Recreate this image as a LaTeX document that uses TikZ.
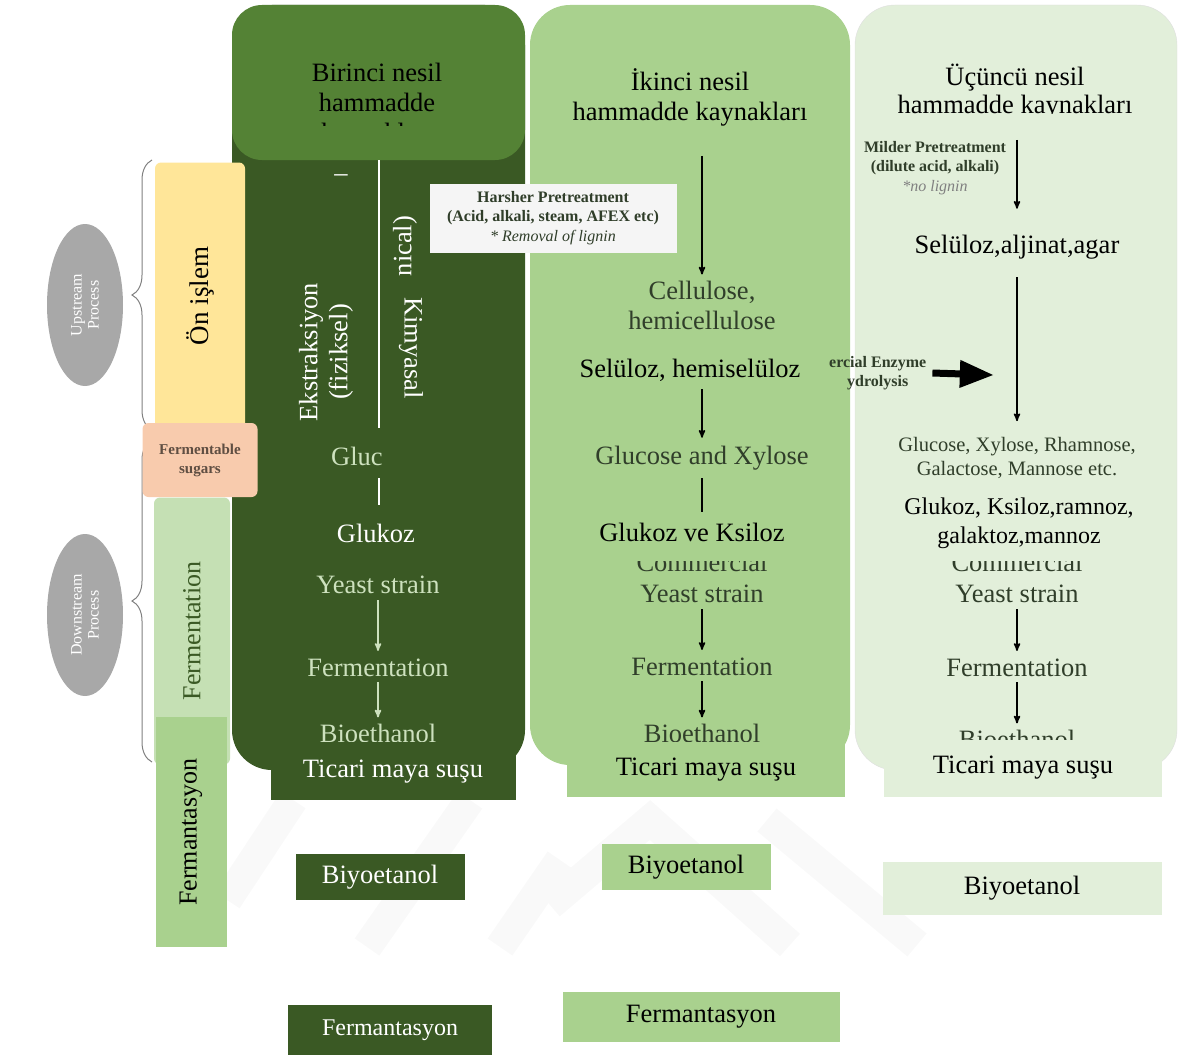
\documentclass[tikz,border=0pt]{standalone}
\usepackage{fontspec}
\setmainfont{Liberation Serif}
\usetikzlibrary{arrows,shapes.geometric,decorations.pathreplacing}
\definecolor{colD}{RGB}{58,89,36}
\definecolor{hdr}{RGB}{84,130,53}
\definecolor{col2}{RGB}{169,209,142}
\definecolor{col3}{RGB}{226,239,218}
\definecolor{pale}{RGB}{205,225,190}
\definecolor{engc}{RGB}{48,62,42}
\definecolor{yel}{RGB}{255,230,153}
\definecolor{peach}{RGB}{248,203,173}
\definecolor{sugc}{RGB}{95,78,66}
\definecolor{ltg}{RGB}{197,224,180}
\definecolor{elg}{RGB}{168,168,168}
\tikzset{
  col_txt/.style = {align=center, inner sep=0pt, font=\fontsize{26.5}{30}\selectfont},
  eng_txt/.style = {align=center, inner sep=0pt, font=\fontsize{26.5}{30}\selectfont},
  tr_box/.style = {inner sep=0pt, font=\fontsize{26.5}{30}\selectfont},
  small_b/.style = {align=center, inner sep=0pt, font=\fontsize{16}{19.5}\selectfont\bfseries},
  side_box/.style = {rounded corners=6pt, inner sep=0pt, align=center},
  proc_ell/.style = {ellipse, fill=elg, inner sep=0pt, minimum width=76pt,
    minimum height=162pt},
  flow/.style = {->, line width=1.6pt}}

\begin{document}
\begin{tikzpicture}[x=1pt,y=-1pt,>=stealth']
\useasboundingbox (0,0) rectangle (1183,1057);
% faint watermark
\begin{scope}[gray!5, line width=30pt]
 \draw (227,900) -- (293,800);
 \draw (367,947) -- (470,800);
 \draw (500,947) -- (560,860);
 \draw (550,905) -- (650,820) -- (790,945);
 \draw (767,820) -- (917,945);
\end{scope}
% columns
\fill[colD, rounded corners=40pt] (232,5) rectangle (525,770);
\fill[hdr, rounded corners=30pt] (232,5) rectangle (525,160);
\fill[col2, rounded corners=40pt] (530,5) rectangle (850,765);
\filldraw[fill=col3, draw=gray!25, rounded corners=40pt] (855,5) rectangle (1177,770);

% first generation
\begin{scope}
 \clip (240,10) rectangle (515,125);
 \node[col_txt] (t1) at (377,105) {Birinci nesil\\hammadde\\kaynakları};
\end{scope}
\coordinate (h1) at (379,160);
\coordinate (e1) at (379,428);
\draw[white, line width=2.5pt] (h1) -- (e1);
\node[white, col_txt] (dash1) at (341,178) {–};
\node[white, col_txt, rotate=90] (mech) at (405,246) {nical)};
\node[white, col_txt, rotate=90] (ext) at (326,352) {Ekstraksiyon\\(fiziksel)};
\node[white, col_txt, rotate=-90] (kim) at (411,348) {Kimyasal};
\node[pale, eng_txt, anchor=west] (glc1) at (331,456) {Gluc};
\coordinate (b1a) at (379,478);
\coordinate (b1b) at (379,505);
\draw[white, line width=2.5pt] (b1a) -- (b1b);
\node[white, col_txt] (gk1) at (376,533) {Glukoz};
\node[pale, eng_txt] (ys1) at (378,585) {Yeast strain};
\node[pale, eng_txt] (fe1) at (378,668) {Fermentation};
\begin{scope}
 \clip (240,700) rectangle (515,741);
 \node[pale, eng_txt, anchor=base] (bio1) at (378,742) {Bioethanol};
\end{scope}
\draw[flow, pale, shorten <=6pt, shorten >=8pt] (ys1) -- (fe1);
\draw[flow, pale, shorten <=5pt, shorten >=6pt] (fe1) -- (bio1);

% second generation
\node[col_txt] (t2) at (690,97) {İkinci nesil\\hammadde kaynakları};
\node[engc, col_txt] (cel) at (702,305) {Cellulose,\\hemicellulose};
\draw[flow, shorten <=30pt, shorten >=6pt] (t2.south -| cel) -- (cel);
\node[fill=gray!8, small_b, minimum width=247pt, minimum height=69pt,
  text=engc] (harsh) at (553,218)
  {Harsher Pretreatment\\(Acid, alkali, steam, AFEX etc)\\
   {\mdseries\itshape * Removal of lignin}};
\node[col_txt] (sel2) at (690,370) {Selüloz, hemiselüloz};
\node[engc, eng_txt] (glx2) at (702,458) {Glucose and Xylose};
\draw[flow, shorten <=8pt, shorten >=8pt] (sel2.south -| glx2) -- (glx2);
\node[col_txt] (gk2) at (692,532) {Glukoz ve Ksiloz};
\begin{scope}
 \clip (560,561) rectangle (840,580);
 \node[engc, eng_txt, anchor=base] (com2) at (702,571) {Commercial};
\end{scope}
\draw[line width=1.8pt, shorten <=8pt, shorten >=10pt] (glx2) -- (gk2.north -| glx2);
\node[engc, eng_txt] (ys2) at (702,594) {Yeast strain};
\node[engc, eng_txt] (fe2) at (702,667) {Fermentation};
\begin{scope}
 \clip (560,700) rectangle (840,741);
 \node[engc, eng_txt, anchor=base] (bio2) at (702,742) {Bioethanol};
\end{scope}
\draw[flow, shorten <=6pt, shorten >=8pt] (ys2) -- (fe2);
\draw[flow, shorten <=5pt, shorten >=6pt] (fe2) -- (bio2);

% third generation
\begin{scope}
 \clip (870,20) rectangle (1165,113);
 \node[col_txt, font=\fontsize{26.5}{28}\selectfont] (t3) at (1015,92)
  {Üçüncü nesil\\hammadde kaynakları};
\end{scope}
\node[small_b, text=engc] (mild) at (935,168)
  {Milder Pretreatment\\(dilute acid, alkali)\\
   {\mdseries\itshape\color{gray}*no lignin}};
\node[col_txt] (sel3) at (1017,247) {Selüloz,aljinat,agar};
\draw[flow, shorten <=20pt, shorten >=26pt] (t3.south -| sel3) -- (sel3);
\node[engc, align=center, inner sep=0pt, font=\fontsize{20.5}{24}\selectfont]
  (gx3) at (1017,458) {Glucose, Xylose, Rhamnose,\\Galactose, Mannose etc.};
\draw[flow, shorten <=18pt, shorten >=16pt] (sel3) -- (gx3);
\node[small_b, anchor=west, text=engc] (enz) at (829,373) {ercial Enzyme\\ydrolysis};
\coordinate (ar3) at (993,375);
\draw[line width=7pt, -triangle 45] ([xshift=6pt]enz.east) -- (ar3);
\node[col_txt, font=\fontsize{24}{29}\selectfont] (gk3) at (1019,523)
  {Glukoz, Ksiloz,ramnoz,\\galaktoz,mannoz};
\begin{scope}
 \clip (870,561) rectangle (1165,580);
 \node[engc, eng_txt, anchor=base] (com3) at (1017,571) {Commercial};
\end{scope}
\node[engc, eng_txt] (ys3) at (1017,594) {Yeast strain};
\node[engc, eng_txt] (fe3) at (1017,668) {Fermentation};
\begin{scope}
 \clip (870,700) rectangle (1165,740);
 \node[engc, eng_txt, anchor=base] (bio3) at (1017,748) {Bioethanol};
\end{scope}
\draw[flow, shorten <=6pt, shorten >=8pt] (ys3) -- (fe3);
\draw[flow, shorten <=5pt, shorten >=6pt] (fe3) -- (bio3);

% lower boxes
\node[tr_box, fill=colD, text=white, minimum width=245pt, minimum height=56pt]
  (tic1) at (393,772) {Ticari maya suşu};
\node[tr_box, fill=col2, minimum width=278pt, minimum height=54pt]
  (tic2) at (706,770) {Ticari maya suşu};
\node[tr_box, fill=col3, minimum width=278pt, minimum height=57pt]
  (tic3) at (1023,768) {Ticari maya suşu};
\node[tr_box, fill=colD, text=white, minimum width=169pt, minimum height=46pt]
  (biy1) at (380,877) {Biyoetanol};
\node[tr_box, fill=col2, minimum width=169pt, minimum height=46pt]
  (biy2) at (686,867) {Biyoetanol};
\node[tr_box, fill=col3, minimum width=279pt, minimum height=53pt]
  (biy3) at (1022,888) {Biyoetanol};
\node[tr_box, fill=colD, text=white, minimum width=204pt, minimum height=50pt,
  font=\fontsize{24}{28}\selectfont] (fer1) at (390,1030) {Fermantasyon};
\node[tr_box, fill=col2, minimum width=277pt, minimum height=50pt]
  (fer2) at (701,1017) {Fermantasyon};

% process side
\node[proc_ell] (up) at (85,305) {};
\node[white, rotate=90, align=center, font=\fontsize{16}{17}\selectfont] at (up)
  {Upstream\\Process};
\node[proc_ell] (down) at (85,615) {};
\node[white, rotate=90, align=center, font=\fontsize{16}{17}\selectfont] at (down)
  {Downstream\\Process};
\coordinate (br1a) at (152,430);
\coordinate (br1b) at (152,160);
\coordinate (br2a) at (152,762);
\coordinate (br2b) at (152,440);
\draw[gray, line width=1pt, decorate, decoration={brace, amplitude=20pt}] (br1a) -- (br1b);
\draw[gray, line width=1pt, decorate, decoration={brace, amplitude=20pt}] (br2a) -- (br2b);
\node[side_box, fill=yel, minimum width=90pt, minimum height=267pt] (pre)
  at (200,296) {};
\node[rotate=90, font=\fontsize{27}{30}\selectfont] at (pre) {Ön işlem};
\node[side_box, fill=peach, minimum width=115pt, minimum height=74pt,
  text=sugc, font=\fontsize{15}{19}\selectfont\bfseries] (sug)
  at (200,460) {Fermentable\\sugars};
\node[side_box, fill=ltg, minimum width=76pt, minimum height=267pt] (ferm)
  at (192,631) {};
\node[rotate=90, text=colD, font=\fontsize{26}{28}\selectfont] at (ferm)
  {Fermentation};
\node[fill=col2, inner sep=0pt, minimum width=71pt, minimum height=230pt] (ferv)
  at (191,832) {};
\node[rotate=90, font=\fontsize{26}{28}\selectfont] at (ferv) {Fermantasyon};
\end{tikzpicture}
\end{document}
